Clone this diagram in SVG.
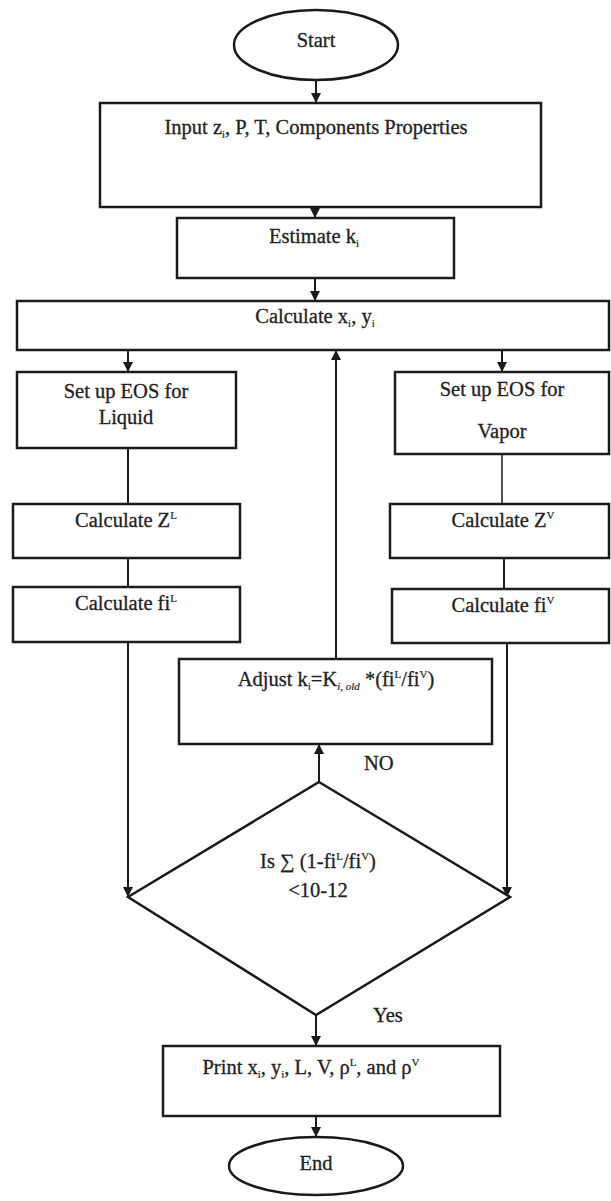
<svg xmlns="http://www.w3.org/2000/svg" width="611" height="1201" viewBox="0 0 611 1201">
<style>
  .box { fill: #fff; stroke: #1a1a1a; stroke-width: 2.5; }
  .ln { fill: none; stroke: #1a1a1a; stroke-width: 2; }
  .thin { fill: none; stroke: #1a1a1a; stroke-width: 1.5; }
  text { font-family: "Liberation Serif", "Times New Roman", serif; font-size: 20.5px; fill: #222; stroke: #222; stroke-width: 0.3; }
  .c { text-anchor: middle; }
  .s { font-size: 11px; stroke-width: 0.2; }
</style>
<defs>
  <marker id="ah" viewBox="0 0 10 10" refX="10" refY="5" markerWidth="5.5" markerHeight="5" orient="auto" markerUnits="strokeWidth">
    <path d="M0,0 L10,5 L0,10 Z" fill="#1a1a1a"/>
  </marker>
</defs>
<rect width="611" height="1201" fill="#fff"/>

<g id="connectors">
  <line class="ln" x1="316" y1="80" x2="316" y2="103" marker-end="url(#ah)"/>
  <line class="ln" x1="315" y1="207" x2="315" y2="218" marker-end="url(#ah)"/>
  <line class="ln" x1="315" y1="278" x2="315" y2="301" marker-end="url(#ah)"/>
  <line class="ln" x1="128" y1="350" x2="128" y2="372" marker-end="url(#ah)"/>
  <line class="ln" x1="502" y1="350" x2="502" y2="372" marker-end="url(#ah)"/>
  <line class="ln" x1="128" y1="448" x2="128" y2="504"/>
  <line class="ln" x1="128" y1="558" x2="128" y2="587"/>
  <line class="ln" x1="128" y1="642" x2="128" y2="897" marker-end="url(#ah)"/>
  <line class="thin" x1="502" y1="454" x2="502" y2="504"/>
  <line class="ln" x1="504" y1="558" x2="504" y2="589"/>
  <line class="ln" x1="507" y1="643" x2="507" y2="897" marker-end="url(#ah)"/>
  <line class="ln" x1="319" y1="782" x2="319" y2="744" marker-end="url(#ah)"/>
  <line class="ln" x1="336" y1="659" x2="336" y2="350" marker-end="url(#ah)"/>
  <line class="ln" x1="316" y1="1015" x2="316" y2="1046" marker-end="url(#ah)"/>
  <line class="ln" x1="316" y1="1116" x2="316" y2="1137" marker-end="url(#ah)"/>
  <text x="364" y="770">NO</text>
  <text x="373" y="1022">Yes</text>
</g>

<g id="start">
  <ellipse class="box" cx="316" cy="45" rx="82" ry="35"/>
  <text class="c" x="316" y="47">Start</text>
</g>

<g id="input">
  <rect class="box" x="100" y="103" width="441" height="104"/>
  <text class="c" x="316" y="134">Input z<tspan class="s" dy="4">i</tspan><tspan dy="-4">, P, T, Components Properties</tspan></text>
</g>

<g id="estimate">
  <rect class="box" x="177" y="218" width="277" height="60"/>
  <text class="c" x="314" y="243">Estimate k<tspan class="s" dy="4">i</tspan></text>
</g>

<g id="calcxy">
  <rect class="box" x="17" y="301" width="592" height="49"/>
  <text class="c" x="315" y="323">Calculate x<tspan class="s" dy="4">i</tspan><tspan dy="-4">, y</tspan><tspan class="s" dy="4">i</tspan></text>
</g>

<g id="eosliquid">
  <rect class="box" x="17" y="372" width="219" height="76"/>
  <text class="c" x="126" y="398">Set up EOS for</text>
  <text class="c" x="126" y="424">Liquid</text>
</g>

<g id="eosvapor">
  <rect class="box" x="395" y="372" width="214" height="82"/>
  <text class="c" x="502" y="396">Set up EOS for</text>
  <text class="c" x="502" y="438">Vapor</text>
</g>

<g id="zl">
  <rect class="box" x="13" y="504" width="227" height="54"/>
  <text class="c" x="126" y="527">Calculate Z<tspan class="s" dy="-8">L</tspan></text>
</g>

<g id="zv">
  <rect class="box" x="390" y="504" width="219" height="54"/>
  <text class="c" x="503" y="527">Calculate Z<tspan class="s" dy="-8">V</tspan></text>
</g>

<g id="fil">
  <rect class="box" x="13" y="587" width="227" height="55"/>
  <text class="c" x="126" y="610">Calculate fi<tspan class="s" dy="-8">L</tspan></text>
</g>

<g id="fiv">
  <rect class="box" x="392" y="589" width="217" height="54"/>
  <text class="c" x="503" y="612">Calculate fi<tspan class="s" dy="-8">V</tspan></text>
</g>

<g id="adjust">
  <rect class="box" x="179" y="659" width="313" height="85"/>
  <text class="c" x="336" y="686">Adjust k<tspan class="s" dy="4">i</tspan><tspan dy="-4">=K</tspan><tspan class="s" dy="4" font-style="italic">i, old</tspan><tspan dy="-4"> *(fi</tspan><tspan class="s" dy="-8">L</tspan><tspan dy="8">/fi</tspan><tspan class="s" dy="-8">V</tspan><tspan dy="8">)</tspan></text>
</g>

<g id="decision">
  <polygon class="box" points="319,782 510,897 316,1015 128,897"/>
  <text class="c" x="318" y="868">Is ∑ (1-fi<tspan class="s" dy="-8">L</tspan><tspan dy="8">/fi</tspan><tspan class="s" dy="-8">V</tspan><tspan dy="8">)</tspan></text>
  <text class="c" x="318" y="897">&lt;10-12</text>
</g>

<g id="print">
  <rect class="box" x="163" y="1046" width="337" height="70"/>
  <text class="c" x="311" y="1074">Print x<tspan class="s" dy="4">i</tspan><tspan dy="-4">, y</tspan><tspan class="s" dy="4">i</tspan><tspan dy="-4">, L, V, ρ</tspan><tspan class="s" dy="-8">L</tspan><tspan dy="8">, and ρ</tspan><tspan class="s" dy="-8">V</tspan></text>
</g>

<g id="end">
  <ellipse class="box" cx="316" cy="1166" rx="87" ry="29"/>
  <text class="c" x="316" y="1170">End</text>
</g>
</svg>
